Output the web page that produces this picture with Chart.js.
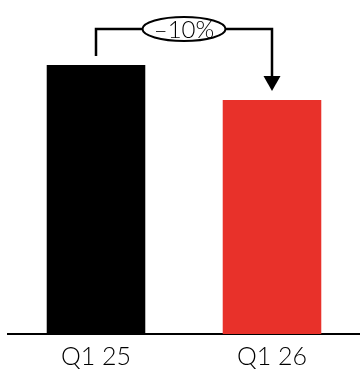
<!DOCTYPE html>
<html>
<head>
<meta charset="utf-8">
<script src="https://cdn.jsdelivr.net/npm/chart.js@4"></script>
<style>
  html, body { margin: 0; padding: 0; background: #fff; }
  #wrap { width: 360px; height: 371px; }
</style>
</head>
<body>
<div id="wrap"><canvas id="chart"></canvas></div>
<script>
// data
let labels = ['Q1 25', 'Q1 26'];
let values = [100, 87];
let colors = ['#000000', '#e8312a'];
let changeLabel = '–10%';

let fontFamily = "Lato, 'Open Sans', sans-serif";

// bracket with arrow + ellipse label between the two bars
let changeArrow = {
    id: 'changeArrow',
    afterDraw: (chart) => {
        let c = chart.ctx;
        let bars = chart.getDatasetMeta(0).data;
        let a = bars[0], b = bars[1];
        let topY = chart.chartArea.top - 36;
        let gap = 9;
        let head = 15;

        c.save();
        c.strokeStyle = '#000';
        c.fillStyle = '#000';
        c.lineWidth = 2.5;
        c.beginPath();
        c.moveTo(a.x, a.y - gap);
        c.lineTo(a.x, topY);
        c.lineTo(b.x, topY);
        c.lineTo(b.x, b.y - gap - head + 1);
        c.stroke();

        // arrow head
        c.beginPath();
        c.moveTo(b.x - 8.5, b.y - gap - head);
        c.lineTo(b.x + 8.5, b.y - gap - head);
        c.lineTo(b.x, b.y - gap);
        c.closePath();
        c.fill();

        // ellipse label
        let cx = (a.x + b.x) / 2;
        c.beginPath();
        c.ellipse(cx, topY, 41.5, 12, 0, 0, Math.PI * 2);
        c.fillStyle = '#fff';
        c.fill();
        c.lineWidth = 2;
        c.stroke();

        c.fillStyle = '#000';
        c.font = '300 24px ' + fontFamily;
        c.textAlign = 'center';
        c.textBaseline = 'middle';
        c.fillText(changeLabel, cx, topY + 1);
        c.restore();
    }
};

let ctx = document.getElementById('chart').getContext('2d');

let myChart = new Chart(ctx, {
    type: 'bar',
    data: {
        labels: labels,
        datasets: [{
            data: values,
            backgroundColor: colors,
            borderWidth: 0,
            categoryPercentage: 0.56,
            barPercentage: 1
        }]
    },
    options: {
        responsive: true,
        maintainAspectRatio: false,
        animation: false,
        layout: {
            padding: { top: 65, left: 8, right: -4, bottom: 0 }
        },
        plugins: {
            legend: { display: false },
            tooltip: { enabled: false }
        },
        scales: {
            x: {
                grid: { display: false },
                border: { display: true, color: '#000', width: 2 },
                ticks: {
                    color: '#000',
                    padding: 0,
                    font: { family: fontFamily, size: 25, weight: 300 }
                },
                afterFit: (scale) => {
                    scale.height = 37;
                }
            },
            y: {
                display: false,
                min: 0,
                max: 100
            }
        }
    },
    plugins: [changeArrow]
});
</script>
</body>
</html>
